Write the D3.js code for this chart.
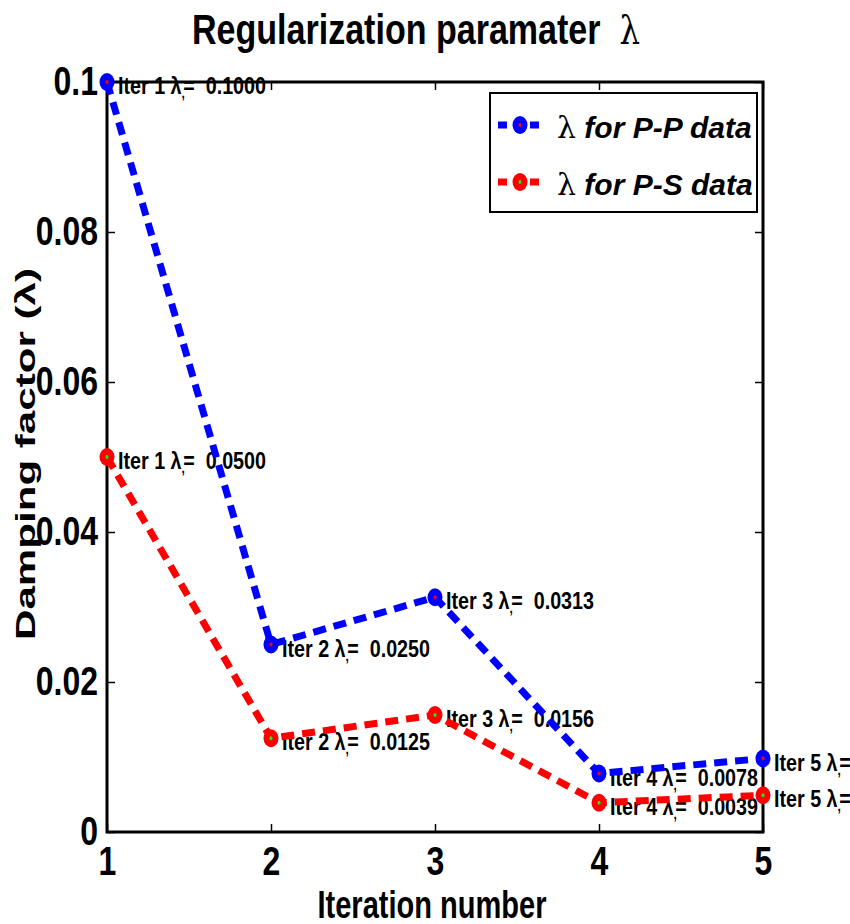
<!DOCTYPE html>
<html>
<head>
<meta charset="utf-8">
<script src="https://cdn.jsdelivr.net/npm/d3@7"></script>
<style>
  body { margin: 0; background: #fff; }
  text { white-space: pre; }
</style>
</head>
<body>
<svg id="chart" width="850" height="924"></svg>
<script>
// Damping factor per inversion iteration
const iterations = [1, 2, 3, 4, 5];
const lambdaPP = [0.1000, 0.0250, 0.0313, 0.0078, 0.0098];
const lambdaPS = [0.0500, 0.0125, 0.0156, 0.0039, 0.0049];
const yTicks = [0, 0.02, 0.04, 0.06, 0.08, 0.1];
const yTickLabels = ["0", "0.02", "0.04", "0.06", "0.08", "0.1"];
const seriesNames = ["for P-P data", "for P-S data"];
const seriesLine = ["#0000ff", "#ff0000"];
const seriesDot = ["#ff0000", "#00ff00"];

const W = 850, H = 924;
const margin = { top: 82, right: 87, bottom: 92, left: 107 };
const iw = W - margin.left - margin.right;
const ih = H - margin.top - margin.bottom;

const svg = d3.select("#chart");
const g = svg.append("g").attr("transform", `translate(${margin.left},${margin.top})`);

const x = d3.scaleLinear().domain([1, 5]).range([0, iw]);
const y = d3.scaleLinear().domain([0, 0.1]).range([ih, 0]);

const narrow = "'Liberation Sans Narrow', 'Arial Narrow', sans-serif";
const sans = "'Liberation Sans', Arial, sans-serif";

const series = [lambdaPP, lambdaPS].map((vals, s) =>
  iterations.map((it, i) => ({ it, v: vals[i], s })));

// point labels (beneath the frame and the lines)
const labelLayer = g.append("g");
series.forEach(pts => {
  pts.forEach(p => {
    const t = labelLayer.append("text")
      .attr("x", x(p.it) + 11)
      .attr("y", y(p.v) + 12)
      .attr("font-family", narrow)
      .attr("font-weight", "bold")
      .attr("font-size", 23)
      .attr("fill", "#000");
    t.append("tspan").text(`Iter ${p.it} λ`);
    t.append("tspan").attr("font-size", 14).attr("dy", 4).text(",");
    t.append("tspan").attr("dy", -4).attr("dx", -2).text(`=  ${p.v.toFixed(4)}`);
    t.attr("textLength", 148).attr("lengthAdjust", "spacingAndGlyphs");
  });
});

// axes with inward ticks on all four sides
function styleAxis(sel) {
  sel.select(".domain").remove();
  sel.selectAll(".tick line").attr("stroke", "#000").attr("stroke-width", 1.5);
  sel.selectAll(".tick text")
    .attr("font-family", narrow)
    .attr("font-weight", "bold")
    .attr("font-size", 40)
    .attr("fill", "#000")
    .each(function () {
      const len = this.getComputedTextLength();
      d3.select(this).attr("textLength", len * 0.8).attr("lengthAdjust", "spacingAndGlyphs");
    });
}

g.append("g").attr("transform", `translate(0,${ih})`)
  .call(d3.axisBottom(x).tickValues(iterations).tickFormat(d3.format("d"))
    .tickSizeInner(-8).tickSizeOuter(0).tickPadding(15))
  .call(styleAxis);

g.append("g")
  .call(d3.axisLeft(y).tickValues(yTicks).tickFormat((d, i) => yTickLabels[i])
    .tickSizeInner(-8).tickSizeOuter(0).tickPadding(9))
  .call(styleAxis);

g.append("g")
  .call(d3.axisTop(x).tickValues(iterations).tickFormat("")
    .tickSizeInner(-8).tickSizeOuter(0))
  .call(styleAxis);

g.append("g").attr("transform", `translate(${iw},0)`)
  .call(d3.axisRight(y).tickValues(yTicks).tickFormat("")
    .tickSizeInner(-8).tickSizeOuter(0))
  .call(styleAxis);

g.append("rect")
  .attr("x", 0).attr("y", 0).attr("width", iw).attr("height", ih)
  .attr("fill", "none").attr("stroke", "#000").attr("stroke-width", 3);

// dashed series lines
const line = d3.line().x(d => x(d.it)).y(d => y(d.v));
series.forEach((pts, s) => {
  g.append("path")
    .datum(pts)
    .attr("d", line)
    .attr("fill", "none")
    .attr("stroke", seriesLine[s])
    .attr("stroke-width", 7)
    .attr("stroke-dasharray", "13,8");
});

// markers
function marker(sel, cx, cy, s) {
  sel.append("ellipse").attr("cx", cx).attr("cy", cy).attr("rx", 7.5).attr("ry", 9)
    .attr("fill", seriesLine[s]);
  sel.append("ellipse").attr("cx", cx).attr("cy", cy).attr("rx", 1.5).attr("ry", 2)
    .attr("fill", seriesDot[s]);
}
series.forEach(pts => pts.forEach(p => marker(g, x(p.it), y(p.v), p.s)));

// legend
const legW = 267, legH = 119;
const leg = g.append("g").attr("transform", `translate(${iw - 6 - legW},11)`);
leg.append("rect").attr("width", legW).attr("height", legH)
  .attr("fill", "#fff").attr("stroke", "#000").attr("stroke-width", 2);
seriesNames.forEach((name, s) => {
  const ry = 32 + s * 57;
  leg.append("line").attr("x1", 8).attr("x2", 53).attr("y1", ry).attr("y2", ry)
    .attr("stroke", seriesLine[s]).attr("stroke-width", 7).attr("stroke-dasharray", "9,7");
  marker(leg, 30, ry, s);
  const t = leg.append("text").attr("x", 67).attr("y", ry + 13)
    .attr("font-family", sans).attr("font-size", 30).attr("font-weight", "bold")
    .attr("font-style", "italic").attr("fill", "#000");
  t.append("tspan").attr("font-family", "'DejaVu Serif', serif").attr("font-weight", "normal")
    .attr("font-style", "normal").attr("font-size", 30).text("λ");
  t.append("tspan").text(" " + name);
});

// title and axis titles
const title = svg.append("text")
  .attr("x", margin.left + iw / 2 - 19).attr("y", 44)
  .attr("text-anchor", "middle")
  .attr("font-family", narrow).attr("font-weight", "bold").attr("font-size", 42)
  .attr("fill", "#000");
title.append("tspan").text("Regularization paramater  ");
title.append("tspan").attr("font-family", "'DejaVu Serif', serif").attr("font-weight", "normal")
  .attr("font-size", 40).text("λ");
title.attr("textLength", 448).attr("lengthAdjust", "spacingAndGlyphs");

svg.append("text")
  .attr("x", margin.left + iw / 2 - 3).attr("y", 918)
  .attr("text-anchor", "middle")
  .attr("font-family", narrow).attr("font-weight", "bold").attr("font-size", 38)
  .attr("fill", "#000")
  .attr("textLength", 229).attr("lengthAdjust", "spacingAndGlyphs")
  .text("Iteration number");

svg.append("text")
  .attr("transform", `translate(35,${margin.top + ih / 2 - 3}) rotate(-90)`)
  .attr("text-anchor", "middle")
  .attr("font-family", sans).attr("font-weight", "bold").attr("font-size", 28)
  .attr("fill", "#000")
  .attr("textLength", 372).attr("lengthAdjust", "spacingAndGlyphs")
  .text("Damping factor (λ)");
</script>
</body>
</html>
